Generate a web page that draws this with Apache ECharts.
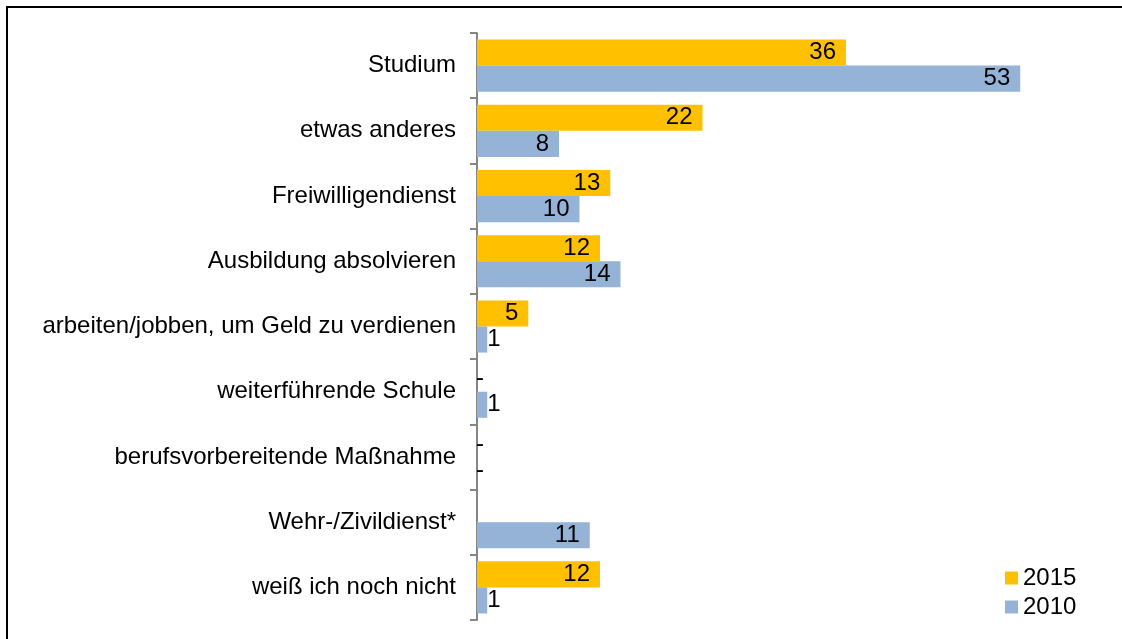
<!DOCTYPE html>
<html>
<head>
<meta charset="UTF-8">
<title></title>
<script src="https://cdn.jsdelivr.net/npm/echarts@6/dist/echarts.min.js"></script>
<style>
  html, body { margin: 0; padding: 0; background: #fff; }
  #main { width: 1122px; height: 639px; }
</style>
</head>
<body>
<div id="main"></div>
<script>
// Kategorien (von oben nach unten)
var categories = [
  'Studium',
  'etwas anderes',
  'Freiwilligendienst',
  'Ausbildung absolvieren',
  'arbeiten/jobben, um Geld zu verdienen',
  'weiterführende Schule',
  'berufsvorbereitende Maßnahme',
  'Wehr-/Zivildienst*',
  'weiß ich noch nicht'
];
// '-' = kein Wert (Strich), null = gar nichts
var values2015 = [36, 22, 13, 12, 5, '-', '-', null, 12];
var values2010 = [53, 8, 10, 14, 1, 1, '-', 11, 1];
var seriesNames = ['2015', '2010'];

var FONT = 'Liberation Sans, Arial, sans-serif';
var FS = 24;

function toData(arr) {
  return arr.map(function (v) {
    if (v === null) return { value: null, label: { show: false } };
    if (v === '-') {
      return { value: 0, label: { position: 'right', distance: -1, formatter: '-' } };
    }
    if (v <= 2) {
      return { value: v, label: { position: 'right', distance: 0 } };
    }
    return v;
  });
}

function makeSeries(name, arr, color) {
  return {
    name: name,
    type: 'bar',
    barCategoryGap: '20%',
    barGap: '0%',
    itemStyle: { color: color },
    label: {
      show: true,
      position: 'insideRight',
      distance: 10,
      color: '#000',
      fontFamily: FONT,
      fontSize: FS
    },
    data: toData(arr)
  };
}

var myChart = echarts.init(document.getElementById('main'));

var option = {
  animation: false,
  backgroundColor: '#fff',
  grid: { left: 477, top: 33, bottom: 19, right: 30 },
  legend: {
    orient: 'vertical',
    left: 1000,
    top: 561,
    itemWidth: 13,
    itemHeight: 13,
    itemGap: 5,
    itemStyle: { borderWidth: 0 },
    icon: 'rect',
    data: seriesNames,
    textStyle: { color: '#000', fontFamily: FONT, fontSize: FS, lineHeight: 24 }
  },
  xAxis: {
    type: 'value',
    min: 0,
    max: 60,
    show: false
  },
  yAxis: {
    type: 'category',
    inverse: true,
    data: categories,
    axisLine: { lineStyle: { color: '#868686', width: 2 } },
    axisTick: { show: true, length: 7, lineStyle: { color: '#868686', width: 2 } },
    axisLabel: { margin: 21, color: '#000', fontFamily: FONT, fontSize: FS }
  },
  graphic: [
    {
      type: 'polyline',
      shape: { points: [[7, 639], [7, 7], [1122, 7]] },
      style: { stroke: '#000', lineWidth: 2, fill: null }
    }
  ],
  series: [
    makeSeries(seriesNames[0], values2015, '#FFC000'),
    makeSeries(seriesNames[1], values2010, '#95B3D7')
  ]
};

myChart.setOption(option);
</script>
</body>
</html>
